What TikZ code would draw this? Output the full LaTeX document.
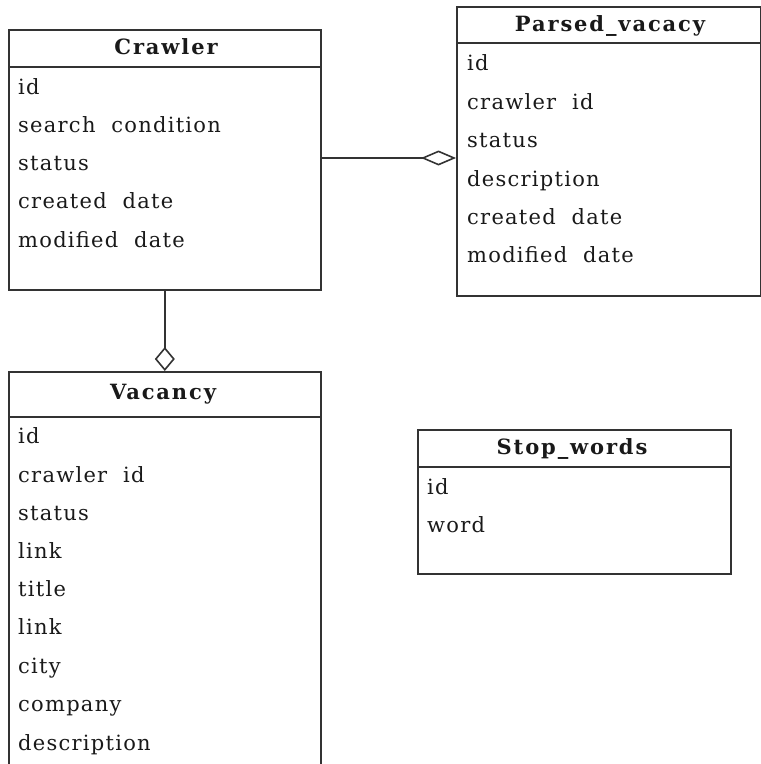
\documentclass[tikz,border=0pt]{standalone}
\usepackage{fontspec}
\setmainfont{DejaVu Serif}[LetterSpace=6, WordSpace=2]
\usepackage{tikz}
\usetikzlibrary{arrows.meta}

\definecolor{linecol}{rgb}{0.2,0.2,0.2}
\definecolor{textcol}{rgb}{0.1,0.1,0.1}

\tikzset{
  entity/.style={draw=linecol, line width=1.6bp, rectangle, inner sep=0pt, anchor=north west},
  field/.style={anchor=west, inner sep=0pt, text=textcol, font=\fontsize{21bp}{24bp}\selectfont,
    text height=15bp, text depth=4bp},
  title/.style={inner sep=0pt, text=textcol,
    font=\fontsize{21bp}{24bp}\selectfont\bfseries\addfontfeatures{LetterSpace=9},
    text height=15bp, text depth=4bp},
  aggr/.style={draw=linecol, line width=1.6bp},
}

\begin{document}
\begin{tikzpicture}[x=1bp,y=-1bp]
  \useasboundingbox (0,0) rectangle (761,764);
  \clip (0,0) rectangle (761,764);
%%
  % Node: Crawler
  \node[entity, minimum width=312bp, minimum height=260bp] (crawler) at (8,29) {};
  \draw[linecol, line width=1.6bp] ([yshift=-38bp]crawler.north west) -- ([yshift=-38bp]crawler.north east);
  \node[title] (crawler-t) at (166,49) {Crawler};
  \node[field] (crawler-1) at (18,89) {id};
  \node[field] (crawler-2) at (18,127) {search condition};
  \node[field] (crawler-3) at (18,165) {status};
  \node[field] (crawler-4) at (18,203) {created date};
  \node[field] (crawler-5) at (18,242) {modified date};
  % Node: Parsed_vacacy
  \node[entity, minimum width=304bp, minimum height=289bp] (parsed) at (456,6) {};
  \draw[linecol, line width=1.6bp] ([yshift=-37bp]parsed.north west) -- ([yshift=-37bp]parsed.north east);
  \node[title] (parsed-t) at (610,26) {Parsed\_vacacy};
  \node[field] (parsed-1) at (467,65) {id};
  \node[field] (parsed-2) at (467,104) {crawler id};
  \node[field] (parsed-3) at (467,142) {status};
  \node[field] (parsed-4) at (467,181) {description};
  \node[field] (parsed-5) at (467,219) {created date};
  \node[field] (parsed-6) at (467,257) {modified date};
  % Node: Vacancy
  \node[entity, minimum width=312bp, minimum height=420bp] (vacancy) at (8,371) {};
  \draw[linecol, line width=1.6bp] ([yshift=-46bp]vacancy.north west) -- ([yshift=-46bp]vacancy.north east);
  \node[title] (vacancy-t) at (163,394) {Vacancy};
  \node[field] (vacancy-1) at (18,438) {id};
  \node[field] (vacancy-2) at (18,477) {crawler id};
  \node[field] (vacancy-3) at (18,515) {status};
  \node[field] (vacancy-4) at (18,553) {link};
  \node[field] (vacancy-5) at (18,591) {title};
  \node[field] (vacancy-6) at (18,629) {link};
  \node[field] (vacancy-7) at (18,668) {city};
  \node[field] (vacancy-8) at (18,706) {company};
  \node[field] (vacancy-9) at (18,745) {description};
  % Node: Stop_words
  \node[entity, minimum width=313bp, minimum height=144bp] (stop) at (417,429) {};
  \draw[linecol, line width=1.6bp] ([yshift=-38bp]stop.north west) -- ([yshift=-38bp]stop.north east);
  \node[title] (stop-t) at (572,449) {Stop\_words};
  \node[field] (stop-1) at (427,489) {id};
  \node[field] (stop-2) at (427,527) {word};
  % Edge: Crawler -> Parsed_vacacy
  \draw[aggr, -{Diamond[open, length=35bp, width=15bp]}] (crawler.east |- 0,158) -- (parsed.west |- 0,158);
  % Edge: Crawler -> Vacancy
  \draw[aggr, -{Diamond[open, length=24bp, width=20bp]}] (crawler.south) -- (vacancy.north);
%
\end{tikzpicture}
\end{document}
